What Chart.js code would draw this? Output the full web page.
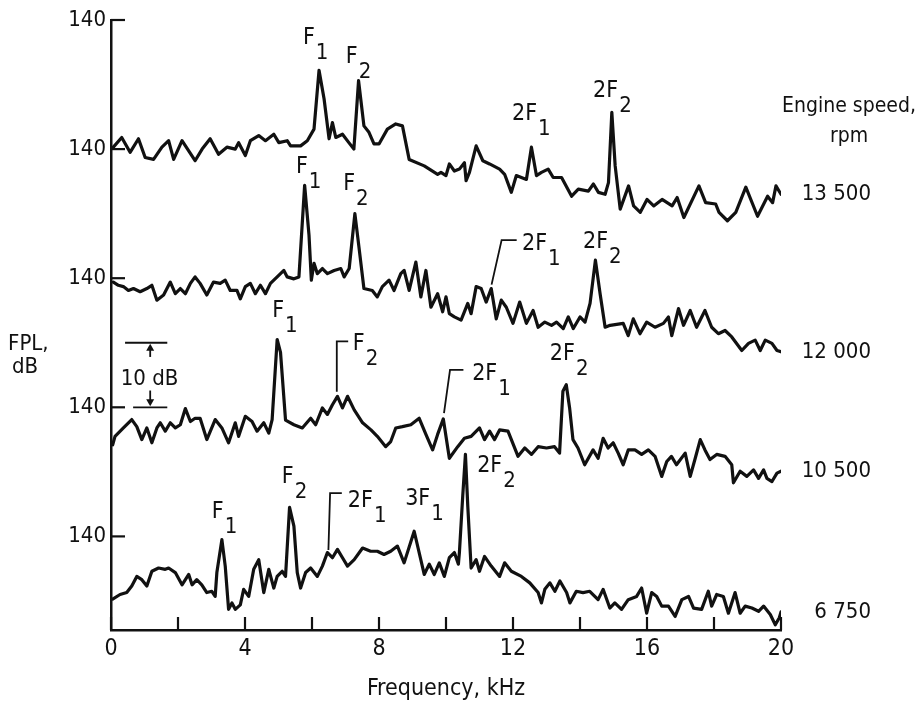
<!DOCTYPE html>
<html>
<head>
<meta charset="utf-8">
<script src="https://cdn.jsdelivr.net/npm/chart.js@4.4.1/dist/chart.umd.min.js"></script>
<style>
  html, body { margin: 0; padding: 0; background: #fff; }
</style>
</head>
<body>
<canvas id="chartSpectres" width="918" height="707"></canvas>
<script>
// Spectres FPL : frequence (kHz) et niveau (dB)
const freq13500 = [0.07,0.32,0.57,0.82,1.02,1.27,1.52,1.72,1.87,2.12,2.51,2.72,2.96,3.21,3.46,3.71,3.81,4.01,4.16,4.41,4.61,4.86,5.01,5.26,5.36,5.66,5.86,6.06,6.21,6.36,6.51,6.61,6.71,6.91,7.10,7.25,7.39,7.55,7.70,7.85,8.00,8.25,8.50,8.70,8.90,9.35,9.75,9.85,10.0,10.1,10.25,10.4,10.55,10.6,10.7,10.9,11.1,11.3,11.6,11.75,11.95,12.1,12.4,12.55,12.7,12.85,13.05,13.2,13.45,13.75,13.95,14.25,14.4,14.55,14.75,14.85,14.95,15.05,15.2,15.45,15.6,15.8,16.0,16.2,16.45,16.75,16.9,17.1,17.55,17.75,18.05,18.15,18.4,18.65,18.95,19.3,19.6,19.75,19.85,20.0];
const fpl13500 = [140.3,141.8,139.5,141.6,138.7,138.4,140.3,141.3,138.4,141.3,138.2,140.0,141.6,139.2,140.3,140.0,141.0,139.0,141.3,142.1,141.3,142.3,141.0,141.3,140.5,140.5,141.3,143.1,152.2,147.8,141.6,144.1,141.8,142.3,141.0,140.0,150.6,143.6,142.6,140.8,140.8,143.1,143.9,143.6,138.4,137.4,136.1,136.4,135.9,137.7,136.6,136.9,137.9,135.1,136.4,140.5,138.2,137.7,136.9,136.1,133.3,135.9,135.3,140.3,135.9,136.4,136.9,135.6,135.6,132.7,133.8,133.5,134.6,133.3,133.0,134.8,145.7,137.4,130.7,134.3,131.2,130.2,132.2,131.2,132.2,131.2,132.5,129.4,134.3,131.7,131.5,130.2,128.9,130.2,134.1,129.6,132.7,131.7,134.3,133.0];

const freq12000 = [0.07,0.22,0.37,0.52,0.67,0.87,1.07,1.22,1.37,1.57,1.77,1.92,2.07,2.22,2.37,2.51,2.66,2.86,3.06,3.26,3.41,3.56,3.76,3.86,4.01,4.16,4.31,4.46,4.61,4.76,4.96,5.16,5.26,5.46,5.61,5.78,5.91,5.98,6.06,6.16,6.31,6.46,6.66,6.86,6.96,7.11,7.28,7.40,7.55,7.80,7.95,8.10,8.30,8.45,8.65,8.75,8.90,9.10,9.25,9.40,9.55,9.75,9.90,10.0,10.1,10.25,10.45,10.65,10.75,10.9,11.05,11.2,11.35,11.5,11.65,11.8,12.0,12.2,12.4,12.6,12.75,12.95,13.15,13.3,13.5,13.65,13.8,14.0,14.15,14.3,14.46,14.6,14.75,14.9,15.29,15.44,15.59,15.79,15.99,16.24,16.49,16.64,16.74,16.94,17.09,17.29,17.48,17.73,17.93,18.13,18.33,18.53,18.83,19.03,19.23,19.38,19.53,19.73,19.88,20.0];
const fpl12000 = [139.4,138.9,138.7,138.1,138.4,137.9,138.4,138.9,136.6,137.4,139.4,137.6,138.4,137.6,139.2,140.2,139.2,137.4,139.4,139.2,139.7,138.1,138.1,136.8,138.7,139.2,137.6,138.9,137.6,139.2,140.2,141.2,140.2,139.9,140.2,154.4,146.7,139.7,142.3,140.7,141.5,140.7,141.2,141.5,140.2,141.5,150.0,144.9,138.4,138.1,137.1,138.7,139.7,138.1,140.7,141.2,138.1,142.5,137.1,141.2,135.5,137.6,134.8,137.1,134.5,134.0,133.5,136.1,134.5,138.7,138.4,136.3,138.4,133.7,136.6,135.5,133.0,136.3,133.0,135.0,132.4,133.2,132.7,133.2,132.2,134.0,132.2,134.0,133.2,136.1,142.8,137.6,132.4,132.7,133.0,131.1,133.7,131.4,133.2,132.4,133.0,134.0,131.1,135.3,132.7,135.0,132.4,135.0,132.4,131.4,131.9,130.9,128.8,129.9,130.4,128.8,130.4,129.9,128.8,128.6];

const freq10500 = [0.05,0.12,0.37,0.62,0.77,0.92,1.07,1.22,1.37,1.47,1.62,1.77,1.92,2.07,2.22,2.37,2.51,2.66,2.86,3.11,3.31,3.51,3.71,3.81,4.01,4.21,4.36,4.56,4.71,4.81,4.96,5.06,5.21,5.46,5.71,5.96,6.11,6.31,6.46,6.61,6.76,6.91,7.06,7.26,7.51,7.76,7.95,8.20,8.35,8.50,8.70,8.95,9.20,9.40,9.60,9.75,9.92,10.1,10.35,10.55,10.75,11.0,11.15,11.3,11.45,11.6,11.85,12.15,12.35,12.55,12.75,13.0,13.24,13.39,13.49,13.59,13.69,13.79,13.94,14.14,14.39,14.54,14.69,14.84,14.99,15.14,15.29,15.44,15.64,15.84,16.04,16.24,16.44,16.59,16.73,16.88,17.14,17.29,17.44,17.59,17.73,17.88,18.08,18.33,18.53,18.58,18.78,18.98,19.18,19.33,19.48,19.58,19.73,19.88,20.0];
const fpl10500 = [134.2,135.5,136.8,138.1,137.0,135.0,136.8,134.5,136.8,137.6,136.3,137.6,136.8,137.3,139.8,137.8,138.3,138.3,135.0,138.1,136.8,134.5,137.6,135.5,138.6,137.8,136.3,137.6,136.0,138.1,150.5,148.5,138.0,137.3,136.8,138.3,137.3,139.9,138.9,140.4,141.7,139.9,141.7,139.6,137.6,136.5,135.5,133.9,134.7,136.8,137.0,137.3,138.3,135.8,133.4,135.8,138.2,132.1,133.9,135.2,135.5,136.8,135.0,136.3,135.0,136.5,136.3,132.4,133.7,132.7,133.9,133.7,133.9,132.9,142.5,143.5,139.9,135.0,133.7,131.1,133.4,132.1,135.2,133.7,134.5,132.9,131.1,133.4,133.4,132.7,133.4,132.4,129.3,131.6,132.4,131.1,132.9,129.3,132.1,135.0,133.4,131.9,132.7,132.4,131.1,128.3,130.1,129.3,130.3,129.0,130.3,129.0,128.5,129.8,130.1];

const freq6750 = [0.05,0.27,0.47,0.62,0.77,0.92,1.07,1.22,1.42,1.62,1.72,1.92,2.12,2.32,2.42,2.56,2.71,2.86,3.01,3.11,3.16,3.31,3.41,3.51,3.61,3.71,3.86,3.96,4.11,4.26,4.41,4.56,4.71,4.86,4.96,5.11,5.21,5.33,5.46,5.56,5.66,5.81,5.96,6.16,6.31,6.46,6.61,6.76,6.91,7.06,7.26,7.51,7.75,7.95,8.15,8.35,8.55,8.75,9.05,9.35,9.50,9.65,9.80,9.95,10.1,10.25,10.37,10.4,10.5,10.58,10.65,10.75,10.9,11.0,11.15,11.35,11.6,11.75,11.95,12.25,12.5,12.75,12.85,12.95,13.1,13.25,13.4,13.6,13.7,13.89,14.09,14.29,14.54,14.69,14.89,15.04,15.24,15.44,15.69,15.84,15.99,16.14,16.29,16.44,16.64,16.84,17.04,17.24,17.39,17.63,17.83,17.93,18.08,18.28,18.43,18.63,18.78,18.93,19.13,19.33,19.48,19.68,19.83,19.95,20.0];
const fpl6750 = [130.3,131.0,131.3,132.3,133.8,133.3,132.3,134.6,135.1,134.9,135.1,134.4,132.5,134.1,132.5,133.3,132.5,131.3,131.5,130.7,134.4,139.5,135.4,128.7,129.7,128.7,129.4,131.8,130.7,134.9,136.4,131.3,134.9,132.0,133.8,134.6,133.8,144.5,141.6,134.4,132.0,134.4,135.1,133.8,135.4,137.5,136.7,138.0,136.7,135.4,136.4,138.2,137.7,137.7,137.2,137.7,138.5,135.9,140.8,134.1,135.7,134.1,135.9,133.8,136.7,137.5,135.7,137.5,146.3,152.7,144.7,135.1,136.4,134.6,136.9,135.4,133.8,135.9,134.6,133.8,132.8,131.3,129.7,131.8,132.8,131.5,133.1,131.3,129.7,131.5,131.3,131.5,130.2,131.8,128.9,129.7,128.7,130.2,130.7,132.0,128.1,131.3,130.7,129.2,129.2,127.6,130.2,130.7,128.9,128.7,131.5,129.2,131.0,130.7,128.1,131.3,128.1,129.2,128.9,128.4,129.2,127.9,126.3,127.4,128.3];

const engineSpeeds = ['13 500', '12 000', '10 500', '6 750'];
const traceOffsets = [60, 40, 20, 0];      // decalage de chaque spectre (dB)
const refLevel = 140;                       // niveau des reperes "140"
const yTickValues = [0, 20, 40, 60, 80];
const xTickValues = [0, 2, 4, 6, 8, 10, 12, 14, 16, 18, 20];
const xTickLabels = ['0', '', '4', '', '8', '', '12', '', '16', '', '20'];

// Reperes des raies : spectre, frequence, niveau, texte, indice, trait de rappel
const peakLabels = [
    { trace: 0, f: 5.73, db: 156.3, main: 'F', sub: '1' },
    { trace: 0, f: 7.01, db: 153.3, main: 'F', sub: '2' },
    { trace: 0, f: 11.97, db: 144.5, main: '2F', sub: '1' },
    { trace: 0, f: 14.39, db: 148.1, main: '2F', sub: '2' },
    { trace: 1, f: 5.52, db: 156.3, main: 'F', sub: '1' },
    { trace: 1, f: 6.93, db: 153.7, main: 'F', sub: '2' },
    { trace: 1, f: 12.27, db: 144.4, main: '2F', sub: '1', leader: [[11.36, 139.0], [11.66, 145.9], [12.11, 145.9]] },
    { trace: 1, f: 14.09, db: 144.7, main: '2F', sub: '2' },
    { trace: 2, f: 4.81, db: 154.0, main: 'F', sub: '1' },
    { trace: 2, f: 7.22, db: 148.9, main: 'F', sub: '2', leader: [[6.74, 142.4], [6.74, 150.2], [7.08, 150.2]] },
    { trace: 2, f: 10.78, db: 144.2, main: '2F', sub: '1', leader: [[9.94, 139.1], [10.12, 145.8], [10.52, 145.8]] },
    { trace: 2, f: 13.10, db: 147.3, main: '2F', sub: '2' },
    { trace: 3, f: 3.01, db: 142.9, main: 'F', sub: '1' },
    { trace: 3, f: 5.10, db: 148.3, main: 'F', sub: '2' },
    { trace: 3, f: 7.07, db: 144.6, main: '2F', sub: '1', leader: [[6.49, 137.9], [6.54, 146.7], [6.89, 146.7]] },
    { trace: 3, f: 8.78, db: 144.9, main: '3F', sub: '1' },
    { trace: 3, f: 10.93, db: 150.0, main: '2F', sub: '2' }
];

const FONT = '"DejaVu Sans Condensed", "Liberation Sans Narrow", "DejaVu Sans", sans-serif';
const INK = '#111';

const spectra = [
    { freqs: freq13500, levels: fpl13500 },
    { freqs: freq12000, levels: fpl12000 },
    { freqs: freq10500, levels: fpl10500 },
    { freqs: freq6750, levels: fpl6750 }
];

function toPoints(freqs, levels, offset) {
    return freqs.map((f, i) => ({ x: f, y: levels[i] - refLevel + offset }));
}

function line(ctx, x1, y1, x2, y2) {
    ctx.beginPath();
    ctx.moveTo(x1, y1);
    ctx.lineTo(x2, y2);
    ctx.stroke();
}

// Dessin des textes et reperes (ticks interieurs, legendes des raies, echelle 10 dB)
const annotationsPlugin = {
    id: 'annotations',
    afterDraw(chart) {
        const { ctx, chartArea, scales } = chart;
        const xs = scales.x, ys = scales.y;
        const px = f => xs.getPixelForValue(f);
        const py = (trace, db) => ys.getPixelForValue(db - refLevel + traceOffsets[trace]);

        ctx.save();
        ctx.strokeStyle = INK;
        ctx.fillStyle = INK;
        ctx.lineWidth = 2.2;
        ctx.lineCap = 'butt';

        // ticks vers l'interieur
        yTickValues.forEach(v => {
            const yy = ys.getPixelForValue(v);
            line(ctx, chartArea.left, yy, chartArea.left + 14, yy);
        });
        xTickValues.forEach(v => {
            const xx = xs.getPixelForValue(v);
            line(ctx, xx, chartArea.bottom, xx, chartArea.bottom - 13);
        });

        // legendes des raies
        ctx.textAlign = 'left';
        ctx.textBaseline = 'alphabetic';
        peakLabels.forEach(lab => {
            const x0 = px(lab.f), y0 = py(lab.trace, lab.db);
            ctx.font = '23px ' + FONT;
            ctx.fillText(lab.main, x0, y0);
            const w = ctx.measureText(lab.main).width;
            ctx.font = '22px ' + FONT;
            ctx.fillText(lab.sub, x0 + w + 1, y0 + 15);
            if (lab.leader) {
                ctx.lineWidth = 1.8;
                ctx.beginPath();
                lab.leader.forEach((p, i) => {
                    const a = px(p[0]), b = py(lab.trace, p[1]);
                    if (i === 0) ctx.moveTo(a, b); else ctx.lineTo(a, b);
                });
                ctx.stroke();
            }
        });

        // echelle 10 dB (sur le spectre 10 500)
        ctx.lineWidth = 1.8;
        const yTop = py(2, 150), yBot = py(2, 140), xa = px(1.17);
        line(ctx, px(0.42), yTop, px(1.68), yTop);
        line(ctx, px(0.66), yBot, px(1.68), yBot);
        line(ctx, xa, py(2, 147.8), xa, yTop + 5);
        line(ctx, xa, py(2, 142.6), xa, yBot - 5);
        ctx.beginPath();
        ctx.moveTo(xa, yTop + 1); ctx.lineTo(xa - 4, yTop + 8); ctx.lineTo(xa + 4, yTop + 8); ctx.closePath(); ctx.fill();
        ctx.beginPath();
        ctx.moveTo(xa, yBot - 1); ctx.lineTo(xa - 4, yBot - 8); ctx.lineTo(xa + 4, yBot - 8); ctx.closePath(); ctx.fill();
        ctx.font = '22px ' + FONT;
        ctx.textAlign = 'center';
        ctx.fillText('10 dB', px(1.15), py(2, 143.5));

        // titre de l'axe vertical
        ctx.textAlign = 'left';
        ctx.fillText('FPL,', 8, 350);
        ctx.fillText('dB', 12, 373);

        // vitesses moteur
        ctx.font = '21px ' + FONT;
        ctx.textAlign = 'center';
        ctx.fillText('Engine speed,', chartArea.right + 68, chartArea.top + 92);
        ctx.fillText('rpm', chartArea.right + 68, chartArea.top + 122);
        ctx.font = '22px ' + FONT;
        ctx.textAlign = 'right';
        ctx.textBaseline = 'middle';
        spectra.forEach((s, i) => {
            const last = s.freqs.length - 1;
            ctx.fillText(engineSpeeds[i], chartArea.right + 90, py(i, s.levels[last]));
        });
        ctx.restore();
    }
};

const canvas = document.getElementById('chartSpectres');

new Chart(canvas, {
    type: 'line',
    data: {
        datasets: spectra.map((s, i) => ({
            label: engineSpeeds[i] + ' rpm',
            data: toPoints(s.freqs, s.levels, traceOffsets[i]),
            borderColor: INK,
            borderWidth: 3.2,
            borderJoinStyle: 'round',
            borderCapStyle: 'round',
            pointRadius: 0,
            tension: 0,
            fill: false
        }))
    },
    options: {
        responsive: false,
        animation: false,
        layout: { padding: { top: 20, right: 137, left: 0, bottom: 0 } },
        plugins: {
            legend: { display: false },
            tooltip: { enabled: false }
        },
        scales: {
            x: {
                type: 'linear',
                min: 0,
                max: 20,
                afterBuildTicks: scale => { scale.ticks = xTickValues.map(v => ({ value: v })); },
                afterFit: scale => { scale.height = 77; },
                grid: { display: true, drawOnChartArea: false, drawTicks: false },
                border: { display: true, color: INK, width: 2.5 },
                ticks: {
                    autoSkip: false,
                    maxRotation: 0,
                    padding: 5,
                    color: INK,
                    font: { family: FONT, size: 23 },
                    callback: (value, index) => xTickLabels[index]
                },
                title: {
                    display: true,
                    text: 'Frequency, kHz',
                    color: INK,
                    font: { family: FONT, size: 23 },
                    padding: { top: 4, bottom: 4 }
                }
            },
            y: {
                type: 'linear',
                min: -14.5,
                max: 80,
                afterBuildTicks: scale => { scale.ticks = yTickValues.map(v => ({ value: v })); },
                afterFit: scale => { scale.width = 111; },
                grid: { display: true, drawOnChartArea: false, drawTicks: false },
                border: { display: true, color: INK, width: 2.5 },
                ticks: {
                    padding: 5,
                    color: INK,
                    font: { family: FONT, size: 22 },
                    callback: () => String(refLevel)
                }
            }
        }
    },
    plugins: [annotationsPlugin]
});
</script>
</body>
</html>
